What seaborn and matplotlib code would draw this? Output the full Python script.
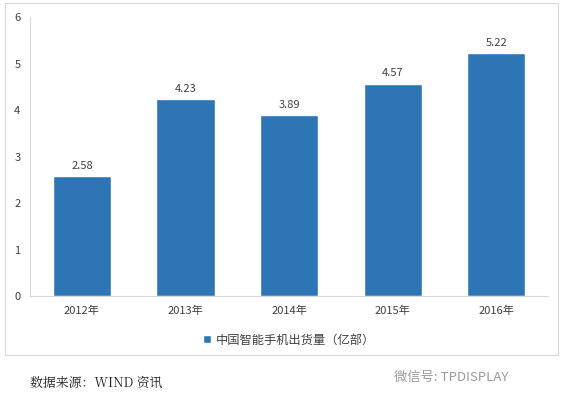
import matplotlib
matplotlib.use("Agg")
import matplotlib.pyplot as plt
import seaborn as sns
import pandas as pd
from matplotlib.patches import Rectangle

years = ["2012年", "2013年", "2014年", "2015年", "2016年"]
shipments = [2.58, 4.23, 3.89, 4.57, 5.22]
series_name = "中国智能手机出货量（亿部）"
y_ticks = [0, 1, 2, 3, 4, 5, 6]

df = pd.DataFrame({"year": years, "value": shipments, "series": series_name})

sns.set_style("white")
plt.rcParams['font.family'] = ['Noto Sans CJK SC', 'DejaVu Sans']

bar_color = "#2e75b6"
fig = plt.figure(figsize=(5.68, 3.99), dpi=100)
ax = fig.add_axes([0.053, 0.258, 0.912, 0.699])

sns.barplot(data=df, x="year", y="value", hue="series", palette=[bar_color],
            width=0.56, ax=ax, legend=True, saturation=1)

# value labels on top of bars
for c in ax.containers:
    ax.bar_label(c, labels=[f"{v:.2f}" for v in shipments], padding=4,
                 fontsize=8, color="#404040")

ax.set_ylim(0, 6)
ax.set_yticks(y_ticks)
ax.set_xlim(-0.5, len(years) - 0.5)
ax.set_xlabel("")
ax.set_ylabel("")
ax.tick_params(axis="y", labelsize=8, colors="#404040", length=3, width=0.6,
               color="#d9d9d9", pad=4)
ax.tick_params(axis="x", labelsize=8, colors="#404040", length=0, pad=7)

# minor ticks between categories on the x axis
ax.set_xticks([i - 0.5 for i in range(len(years) + 1)], minor=True)
ax.tick_params(axis="x", which="minor", length=3, width=0.6, color="#d9d9d9")

for side in ["top", "right"]:
    ax.spines[side].set_visible(False)
for side in ["left", "bottom"]:
    ax.spines[side].set_color("#d9d9d9")
    ax.spines[side].set_linewidth(0.8)

leg = ax.legend(loc="upper center", bbox_to_anchor=(0.5, -0.095), frameon=False,
                fontsize=8.8, handlelength=0.6, handleheight=0.6, handletextpad=0.4)
for t in leg.get_texts():
    t.set_color("#404040")

# chart border
fig.patches.append(Rectangle((5 / 568, 1 - 355 / 399), 553 / 568, 352 / 399,
                             transform=fig.transFigure, fill=False,
                             edgecolor="#d9d9d9", linewidth=0.8))

fig.text(30 / 568, 1 - 383 / 399, "数据来源：WIND 资讯", fontsize=9.3,
         color="#222222", va="center", family=['Noto Serif CJK SC', 'Liberation Serif', 'Noto Sans CJK SC'])
fig.text(508 / 568, 1 - 377 / 399, "微信号: TPDISPLAY", fontsize=9.5,
         color="#9a9a9a", va="center", ha="right")

fig.savefig("out.png", dpi=100)
